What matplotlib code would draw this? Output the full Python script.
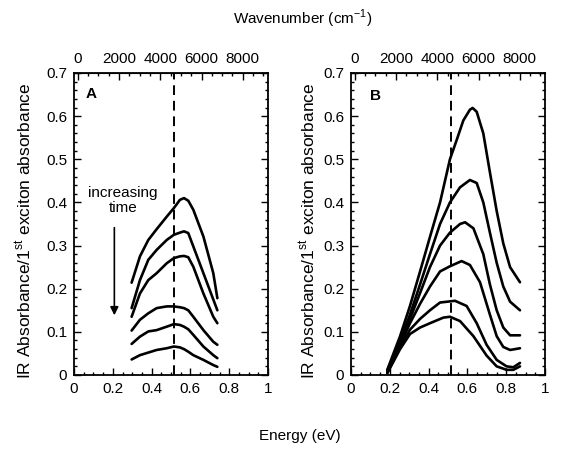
import matplotlib
matplotlib.use("Agg")
import matplotlib.pyplot as plt
from matplotlib.ticker import MultipleLocator

plt.rcParams['font.family'] = ['Liberation Sans', 'DejaVu Sans']
plt.rcParams['mathtext.fontset'] = 'custom'
plt.rcParams['mathtext.rm'] = 'Liberation Sans'

# ---------------- data (Energy in eV, absorbance ratio) ----------------
energy_A = [0.297, 0.340, 0.383, 0.426, 0.478, 0.515, 0.546, 0.567, 0.589, 0.615, 0.667, 0.718, 0.739]
A1 = [0.214, 0.275, 0.313, 0.338, 0.367, 0.387, 0.406, 0.410, 0.404, 0.383, 0.321, 0.236, 0.178]
A2 = [0.155, 0.220, 0.267, 0.290, 0.313, 0.325, 0.330, 0.333, 0.329, 0.298, 0.236, 0.175, 0.150]
A3 = [0.135, 0.189, 0.220, 0.236, 0.259, 0.271, 0.275, 0.276, 0.273, 0.251, 0.189, 0.135, 0.120]
A4 = [0.103, 0.128, 0.143, 0.155, 0.159, 0.159, 0.157, 0.155, 0.150, 0.135, 0.104, 0.077, 0.070]
A5 = [0.072, 0.089, 0.101, 0.104, 0.112, 0.118, 0.116, 0.112, 0.106, 0.093, 0.066, 0.046, 0.039]
A6 = [0.036, 0.046, 0.052, 0.058, 0.062, 0.066, 0.064, 0.060, 0.054, 0.046, 0.035, 0.023, 0.019]
series_A = [A1, A2, A3, A4, A5, A6]

B1_E = [0.187, 0.253, 0.304, 0.356, 0.407, 0.459, 0.510, 0.545, 0.579, 0.613, 0.627, 0.648, 0.682, 0.716, 0.751, 0.785, 0.820, 0.871]
B1_v = [0.012, 0.090, 0.160, 0.240, 0.320, 0.400, 0.500, 0.545, 0.590, 0.615, 0.619, 0.610, 0.560, 0.470, 0.380, 0.305, 0.250, 0.215]
B2_E = [0.187, 0.253, 0.304, 0.356, 0.407, 0.459, 0.510, 0.562, 0.613, 0.648, 0.682, 0.716, 0.751, 0.785, 0.820, 0.871]
B2_v = [0.010, 0.080, 0.140, 0.210, 0.280, 0.350, 0.400, 0.435, 0.452, 0.445, 0.400, 0.330, 0.260, 0.205, 0.170, 0.150]
B3_E = [0.187, 0.253, 0.304, 0.356, 0.407, 0.459, 0.510, 0.562, 0.588, 0.631, 0.682, 0.716, 0.751, 0.785, 0.820, 0.871]
B3_v = [0.008, 0.075, 0.130, 0.190, 0.250, 0.300, 0.330, 0.350, 0.354, 0.340, 0.280, 0.210, 0.150, 0.110, 0.092, 0.092]
B4_E = [0.187, 0.253, 0.304, 0.356, 0.407, 0.459, 0.510, 0.570, 0.613, 0.665, 0.716, 0.751, 0.785, 0.820, 0.871]
B4_v = [0.006, 0.070, 0.120, 0.165, 0.205, 0.240, 0.252, 0.264, 0.255, 0.215, 0.140, 0.090, 0.065, 0.058, 0.062]
B5_E = [0.187, 0.253, 0.304, 0.356, 0.407, 0.459, 0.536, 0.596, 0.648, 0.699, 0.751, 0.802, 0.837, 0.871]
B5_v = [0.005, 0.065, 0.105, 0.130, 0.150, 0.168, 0.172, 0.160, 0.120, 0.070, 0.035, 0.020, 0.018, 0.028]
B6_E = [0.187, 0.253, 0.304, 0.356, 0.407, 0.476, 0.510, 0.562, 0.631, 0.699, 0.751, 0.802, 0.837, 0.871]
B6_v = [0.004, 0.060, 0.095, 0.110, 0.120, 0.133, 0.135, 0.125, 0.090, 0.045, 0.020, 0.012, 0.012, 0.020]
series_B = [(B1_E, B1_v), (B2_E, B2_v), (B3_E, B3_v), (B4_E, B4_v), (B5_E, B5_v), (B6_E, B6_v)]

dashed_energy = 0.515
x_ticks = [0, 0.2, 0.4, 0.6, 0.8, 1]
x_ticklabels = ['0', '0.2', '0.4', '0.6', '0.8', '1']
y_ticks = [0, 0.1, 0.2, 0.3, 0.4, 0.5, 0.6, 0.7]
y_ticklabels = ['0', '0.1', '0.2', '0.3', '0.4', '0.5', '0.6', '0.7']
wn_ticks = [0, 2000, 4000, 6000, 8000]
# top (wavenumber) axis as drawn in the original: 0 at ~0.02, 8000 at ~0.87 of the energy span
wn_origin = 0.02
wn_per_unit = 9412.0

FS = 11
FS_Y = 12.5
W, H = 566, 454
fig = plt.figure(figsize=(W / 100, H / 100), dpi=100)
axA = fig.add_axes([74 / W, 1 - 375 / H, 194 / W, 302 / H])
axB = fig.add_axes([351 / W, 1 - 375 / H, 194 / W, 302 / H])

ylabel = 'IR Absorbance/1$^{\\rm st}$ exciton absorbance'


def e2w(e):
    return (e - wn_origin) * wn_per_unit


def w2e(w):
    return w / wn_per_unit + wn_origin


for ax in (axA, axB):
    ax.set_xlim(0, 1)
    ax.set_ylim(0, 0.7)
    ax.set_xticks(x_ticks)
    ax.set_xticklabels(x_ticklabels)
    ax.set_yticks(y_ticks)
    ax.set_yticklabels(y_ticklabels)
    ax.xaxis.set_minor_locator(MultipleLocator(0.05))
    ax.yaxis.set_minor_locator(MultipleLocator(0.02))
    ax.tick_params(which='both', direction='in', right=True, top=False,
                   labelsize=FS, width=1.0, pad=5)
    ax.tick_params(which='major', length=5)
    ax.tick_params(which='minor', length=2.5)
    for s in ax.spines.values():
        s.set_linewidth(1.3)
    ax.axvline(dashed_energy, color='black', lw=1.4, ls=(0, (5, 3)))
    ax.set_ylabel(ylabel, fontsize=FS_Y)
    sec = ax.secondary_xaxis('top', functions=(e2w, w2e))
    sec.set_xticks(wn_ticks)
    sec.set_xticklabels([str(t) for t in wn_ticks])
    sec.xaxis.set_minor_locator(MultipleLocator(500))
    sec.tick_params(which='both', direction='in', labelsize=FS, width=1.0, pad=5)
    sec.tick_params(which='major', length=5)
    sec.tick_params(which='minor', length=2.5)

for vals in series_A:
    axA.plot(energy_A, vals, color='black', lw=1.9, solid_capstyle='round', solid_joinstyle='round')
for e, v in series_B:
    axB.plot(e, v, color='black', lw=1.9, solid_capstyle='round', solid_joinstyle='round')

axA.text(0.06, 0.93, 'A', transform=axA.transAxes, fontsize=FS, fontweight='bold', va='center')
axB.text(0.10, 0.925, 'B', transform=axB.transAxes, fontsize=FS, fontweight='bold', va='center')

axA.text(0.251, 0.404, 'increasing\ntime', ha='center', va='center', fontsize=FS, linespacing=1.1)
axA.annotate('', xy=(0.208, 0.132), xytext=(0.208, 0.348),
             arrowprops=dict(arrowstyle='-|>', color='black', lw=1.2, mutation_scale=12))

axA.yaxis.set_label_coords(-0.205, 0.478)
axB.yaxis.set_label_coords(-0.17, 0.478)

fig.text(0.535, 0.958, 'Wavenumber (cm$^{-1}$)', ha='center', va='center', fontsize=FS)
fig.text(0.53, 0.040, 'Energy (eV)', ha='center', va='center', fontsize=FS)

fig.savefig('out.png', dpi=100)
